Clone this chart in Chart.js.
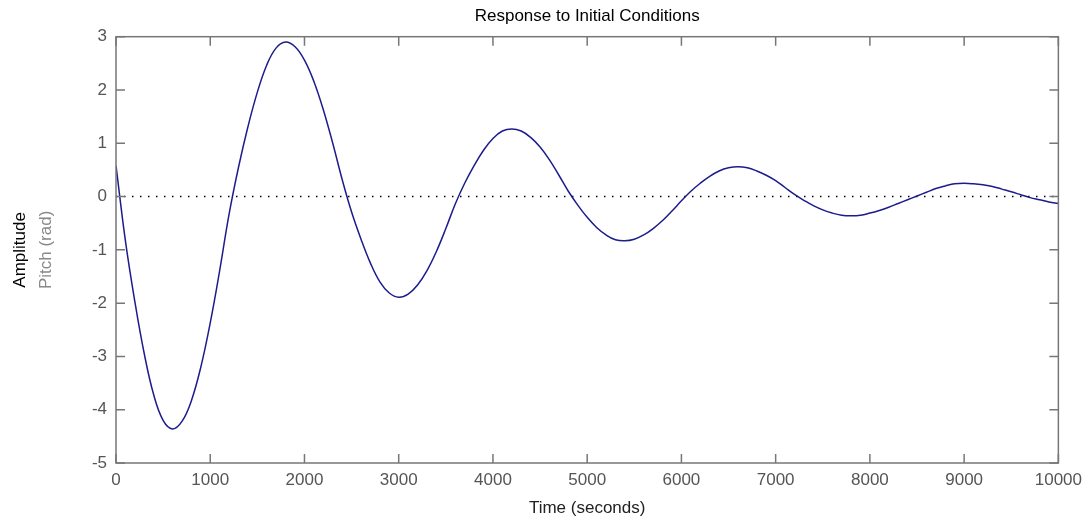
<!DOCTYPE html>
<html>
<head>
<meta charset="utf-8">
<title>Response to Initial Conditions</title>
<script src="https://cdn.jsdelivr.net/npm/chart.js@4.4.1/dist/chart.umd.min.js"></script>
<style>
  html, body { margin: 0; padding: 0; background: #fff; }
  #chart-div { width: 1089px; height: 523px; position: relative; }
</style>
</head>
<body>
<div id="chart-div"><canvas id="myChart"></canvas></div>
<script>
// time in seconds, every 100 s
var times = [
  0, 100, 200, 300, 400, 500, 600, 700, 800, 900,
  1000, 1100, 1200, 1300, 1400, 1500, 1600, 1700, 1800, 1900,
  2000, 2100, 2200, 2300, 2400, 2500, 2600, 2700, 2800, 2900,
  3000, 3100, 3200, 3300, 3400, 3500, 3600, 3700, 3800, 3900,
  4000, 4100, 4200, 4300, 4400, 4500, 4600, 4700, 4800, 4900,
  5000, 5100, 5200, 5300, 5400, 5500, 5600, 5700, 5800, 5900,
  6000, 6100, 6200, 6300, 6400, 6500, 6600, 6700, 6800, 6900,
  7000, 7100, 7200, 7300, 7400, 7500, 7600, 7700, 7800, 7900,
  8000, 8100, 8200, 8300, 8400, 8500, 8600, 8700, 8800, 8900,
  9000, 9100, 9200, 9300, 9400, 9500, 9600, 9700, 9800, 9900,
  10000
];

// pitch (rad)
var pitch = [
  0.58, -0.83, -1.97, -2.95, -3.72, -4.20, -4.36, -4.22, -3.83, -3.20,
  -2.37, -1.39, -0.33, 0.55, 1.31, 1.96, 2.47, 2.79, 2.90, 2.81,
  2.56, 2.16, 1.63, 1.00, 0.32, -0.29, -0.80, -1.25, -1.60, -1.81,
  -1.89, -1.83, -1.66, -1.39, -1.03, -0.60, -0.14, 0.25, 0.58, 0.87,
  1.09, 1.23, 1.27, 1.23, 1.11, 0.93, 0.69, 0.40, 0.10, -0.16,
  -0.39, -0.58, -0.72, -0.81, -0.83, -0.80, -0.72, -0.60, -0.45, -0.27,
  -0.08, 0.10, 0.25, 0.38, 0.48, 0.54, 0.56, 0.54, 0.48, 0.40,
  0.30, 0.17, 0.04, -0.07, -0.17, -0.25, -0.31, -0.35, -0.36, -0.35,
  -0.31, -0.26, -0.20, -0.13, -0.06, 0.01, 0.08, 0.15, 0.20, 0.24,
  0.25, 0.24, 0.22, 0.19, 0.14, 0.09, 0.035, -0.02, -0.06, -0.10,
  -0.13
];

var xTicks = [0, 1000, 2000, 3000, 4000, 5000, 6000, 7000, 8000, 9000, 10000];
var yTicks = [-5, -4, -3, -2, -1, 0, 1, 2, 3];

var fontFamily = "'Liberation Sans', Arial, sans-serif";
var textFont = { family: fontFamily, size: 17, weight: "normal", lineHeight: 1.2 };

// matlab style box with the tick marks pointing in, on all four sides
var boxPlugin = {
  id: "box",
  afterDatasetsDraw: function(chart) {
    var ctx = chart.ctx;
    var area = chart.chartArea;
    var xs = chart.scales.x;
    var ys = chart.scales.y;
    var len = 9;
    ctx.save();
    ctx.strokeStyle = "#777";
    ctx.lineWidth = 1.5;
    ctx.strokeRect(area.left, area.top, area.right - area.left, area.bottom - area.top);
    ctx.beginPath();
    xTicks.forEach(function(v) {
      var px = xs.getPixelForValue(v);
      ctx.moveTo(px, area.bottom);
      ctx.lineTo(px, area.bottom - len);
      ctx.moveTo(px, area.top);
      ctx.lineTo(px, area.top + len);
    });
    yTicks.forEach(function(v) {
      var py = ys.getPixelForValue(v);
      ctx.moveTo(area.left, py);
      ctx.lineTo(area.left + len, py);
      ctx.moveTo(area.right, py);
      ctx.lineTo(area.right - len, py);
    });
    ctx.stroke();
    ctx.restore();
  }
};

function renderChart() {
  var points = times.map(function(t, i) {
    return { x: t, y: pitch[i] };
  });

  new Chart(document.getElementById("myChart"), {
    type: "line",
    data: {
      datasets: [
        {
          label: "Pitch (rad)",
          data: points,
          xAxisID: "x",
          yAxisID: "y",
          borderColor: "#1c1c8c",
          borderWidth: 1.5,
          pointRadius: 0,
          tension: 0.4,
          fill: false
        },
        {
          label: "zero",
          data: [{ x: 0, y: 0 }, { x: 10000, y: 0 }],
          xAxisID: "x",
          yAxisID: "y",
          borderColor: "#000",
          borderWidth: 1.5,
          borderDash: [1.5, 6.5],
          pointRadius: 0,
          fill: false
        }
      ]
    },
    options: {
      responsive: true,
      maintainAspectRatio: false,
      animation: false,
      layout: { padding: { left: 0, right: 29, top: 0, bottom: 0 } },
      plugins: {
        legend: { display: false },
        tooltip: { enabled: false },
        title: {
          display: true,
          text: "Response to Initial Conditions",
          fullSize: false,
          color: "#000",
          font: textFont,
          padding: { top: 6, bottom: 10.3 }
        }
      },
      scales: {
        x: {
          type: "linear",
          min: 0,
          max: 10000,
          afterBuildTicks: function(scale) {
            scale.ticks = xTicks.map(function(v) { return { value: v }; });
          },
          afterFit: function(scale) { scale.height = 60; },
          grid: { display: false, drawTicks: false },
          border: { display: false },
          ticks: {
            color: "#555",
            font: textFont,
            padding: 7,
            maxRotation: 0,
            autoSkip: false,
            callback: function(v) { return String(v); }
          },
          title: {
            display: true,
            text: "Time (seconds)",
            color: "#222",
            font: textFont,
            padding: { top: 0, bottom: 4 }
          }
        },
        y: {
          type: "linear",
          position: "left",
          weight: 0,
          min: -5,
          max: 3,
          afterBuildTicks: function(scale) {
            scale.ticks = yTicks.map(function(v) { return { value: v }; });
          },
          afterFit: function(scale) { scale.width = 80; },
          grid: { display: false, drawTicks: false },
          border: { display: false },
          ticks: {
            color: "#555",
            font: textFont,
            padding: 9,
            autoSkip: false,
            callback: function(v) { return String(v); }
          },
          title: {
            display: true,
            text: "Pitch (rad)",
            color: "#888",
            font: textFont,
            padding: { top: 0, bottom: 0 }
          }
        },
        y2: {
          type: "linear",
          position: "left",
          weight: 1,
          display: true,
          afterFit: function(scale) { scale.width = 36; },
          grid: { display: false, drawTicks: false },
          border: { display: false },
          ticks: { display: false },
          title: {
            display: true,
            text: "Amplitude",
            color: "#000",
            font: textFont,
            padding: { top: 10, bottom: 0 }
          }
        }
      }
    },
    plugins: [boxPlugin]
  });
}

renderChart();
</script>
</body>
</html>
